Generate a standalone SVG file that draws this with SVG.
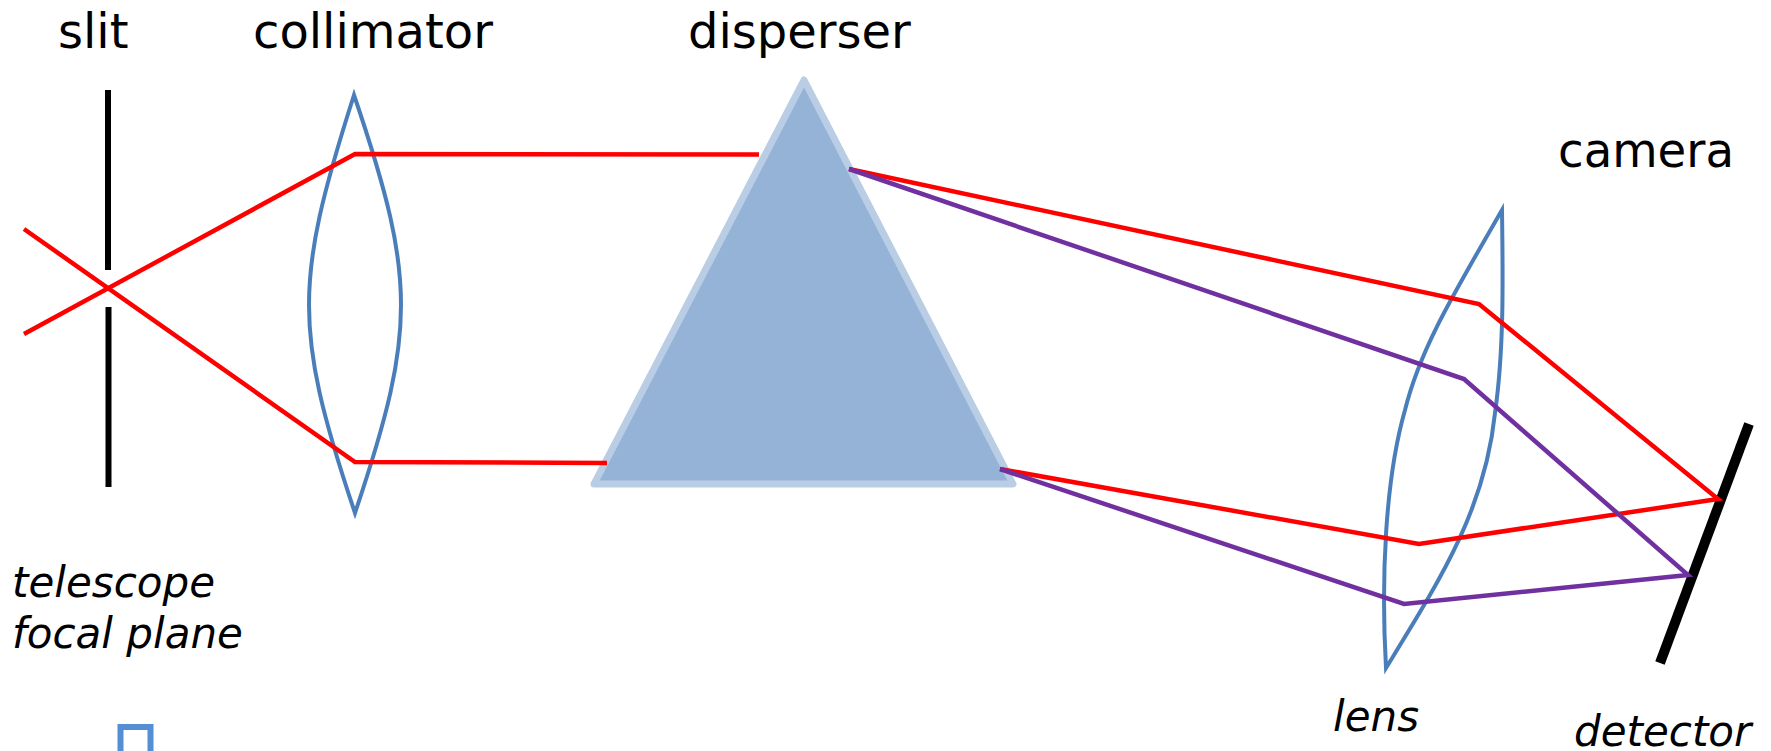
<svg xmlns="http://www.w3.org/2000/svg" width="1771" height="751" viewBox="0 0 1771 751">
<style>
text{font-family:"DejaVu Sans",Verdana,sans-serif;fill:#000}
.h{font-size:48px}
.i{font-size:42px;font-style:italic}
.lens{fill:none;stroke:#4a7ebb;stroke-width:4}
.r{fill:none;stroke:#ff0000;stroke-width:4.500}
.p{fill:none;stroke:#7030a0;stroke-width:4.500}
.k{stroke:#000;fill:none}
</style>
<rect width="1771" height="751" fill="#fff"/>
<g id="slit"><path class="k" stroke-width="6" d="M108 90V270M108.500 307V487"/><text class="h" x="58" y="48">slit</text></g>
<g id="collimator"><path class="lens" d="M354 95C322 195 309 250 309 305C309 360 322 415 355 513C388 415 401 360 401 305C401 250 388 195 354 95Z"/><text class="h" x="253" y="48">collimator</text></g>
<g id="disperser"><path d="M804 80L1013 484H594Z" fill="#95b3d7" stroke="#b9cde5" stroke-width="7" stroke-linejoin="round"/><text class="h" x="688" y="48">disperser</text></g>
<g id="camera-lens"><path class="lens" d="M1502 210C1450 300 1420 350 1405 410C1385 480 1381 580 1386 668C1440 580 1485 510 1495 413C1504 350 1503 280 1502 210Z"/><text class="i" x="1333" y="731">lens</text></g>
<g id="camera-label"><text class="h" x="1558" y="167" textLength="176" lengthAdjust="spacingAndGlyphs">camera</text></g>
<g id="detector"><path class="k" stroke-width="10" d="M1749 424L1660 663"/><text class="i" x="1574" y="746">detector</text></g>
<g id="focal-plane"><text class="i" x="12" y="597">telescope</text><text class="i" x="12" y="648">focal plane</text></g>
<g id="marker"><path d="M120.500 760V727H150.500V760" fill="none" stroke="#558ed5" stroke-width="6"/></g>
<g id="connectors">
<path class="r" d="M24 229L355 462L607 463"/>
<path class="r" d="M24 334L355 154L759 154.500"/>
<path class="r" d="M849 169L1479 304L1718 499L1419 544L1000 469"/>
<path class="p" d="M849 169L1464 379L1688 575L1404 604L1000 469"/>
</g>
</svg>
